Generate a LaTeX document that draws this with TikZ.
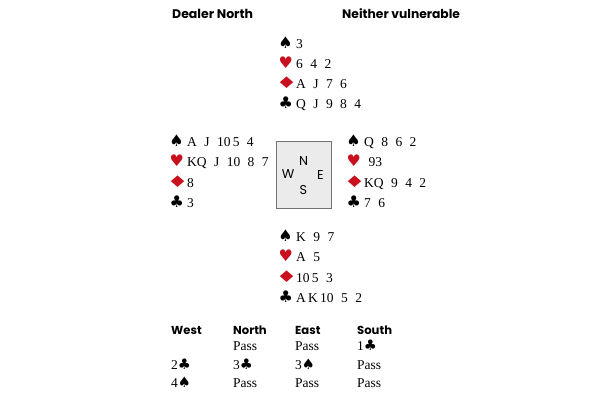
\documentclass[tikz,border=0pt]{standalone}
\usepackage{fontspec}
\setmainfont[WordSpace=2.2]{Liberation Serif}
\newfontfamily\symfont{DejaVu Sans}
\newfontfamily\headfont{Poppins}
\usetikzlibrary{positioning}
\definecolor{cardred}{RGB}{200,16,30}
\newcommand{\Sp}{\char"2660}
\newcommand{\He}{\char"2665}
\newcommand{\Di}{\scalebox{1.5}[1]{\char"2666}}
\newcommand{\Cl}{\char"2663}
\newcommand{\bid}[1]{{\fontsize{14.5}{14}\symfont#1}}
\tikzstyle{suit}=[anchor=base, inner sep=0, font=\fontsize{16}{16}\symfont]
\tikzstyle{cards}=[anchor=base west, inner sep=0, font=\fontsize{13.5}{14}\selectfont]
\tikzstyle{head}=[anchor=base west, inner sep=0, font=\fontsize{11.6}{13}\headfont\bfseries]
\tikzstyle{compass}=[inner sep=0, font=\fontsize{12.8}{12}\headfont]
% one hand: name, x, first baseline, spades, hearts, diamonds, clubs
\newcommand{\hand}[7]{%
  \node[suit] (#1s) at (#2+5.5,#3) {\Sp};
  \node[cards] (#1sc) at (#2+16,#3) {#4};
  \node[suit, cardred] (#1h) at (#2+5.8,#3+20.2) {\He};
  \node[cards] (#1hc) at (#2+16,#3+20.2) {#5};
  \node[suit, cardred] (#1d) at (#2+6.6,#3+40.4) {\Di};
  \node[cards] (#1dc) at (#2+16,#3+40.4) {#6};
  \node[suit] (#1c) at (#2+5.8,#3+60.6) {\Cl};
  \node[cards] (#1cc) at (#2+16,#3+60.6) {#7};}

\begin{document}
\begin{tikzpicture}[x=1pt, y=-1pt]
  \useasboundingbox (0,0) rectangle (600,400);
  \node[head, font=\fontsize{12.5}{13}\headfont\bfseries] (dealer) at (172,18.3) {Dealer North};
  \node[head, font=\fontsize{12.3}{13}\headfont\bfseries] (vul) at (342,18.3) {Neither vulnerable};

  \hand{n}{280}{48}{3}{6 4 2}{A J 7 6}{Q J 9 8 4}
  \hand{w}{171}{146.6}{A J 10\,5 4}{KQ J 10 8 7}{8}{3}
  \hand{e}{348}{146.6}{Q 8 6 2}{\,\,93}{KQ 9 4 2}{7 6}
  \hand{s}{280}{241.7}{K 9 7}{A 5}{10\,5 3}{A\,K\,10 5 2}

  \node[draw=black!55, fill=black!8, minimum width=55pt, minimum height=67pt, inner sep=0] (table) at (303.5,174.5) {};
  \node[compass] (cN) at (303.5,161.3) {N};
  \node[compass] (cW) at (288,174.5) {W};
  \node[compass] (cE) at (320.5,175) {E};
  \node[compass] (cS) at (303.3,190) {S};

  % auction
  \node[head] (aW) at (171,334) {West};
  \node[head] (aN) at (233,334) {North};
  \node[head] (aE) at (295,334) {East};
  \node[head] (aS) at (357,334) {South};
  \node[cards] (b12) at (233,350.7) {Pass};
  \node[cards] (b13) at (295,350.7) {Pass};
  \node[cards] (b14) at (357,350.7) {1\bid{\Cl}};
  \node[cards] (b21) at (171,369) {2\bid{\Cl}};
  \node[cards] (b22) at (233,369) {3\bid{\Cl}};
  \node[cards] (b23) at (295,369) {3\bid{\Sp}};
  \node[cards] (b24) at (357,369) {Pass};
  \node[cards] (b31) at (171,387.3) {4\bid{\Sp}};
  \node[cards] (b32) at (233,387.3) {Pass};
  \node[cards] (b33) at (295,387.3) {Pass};
  \node[cards] (b34) at (357,387.3) {Pass};
\end{tikzpicture}
\end{document}
